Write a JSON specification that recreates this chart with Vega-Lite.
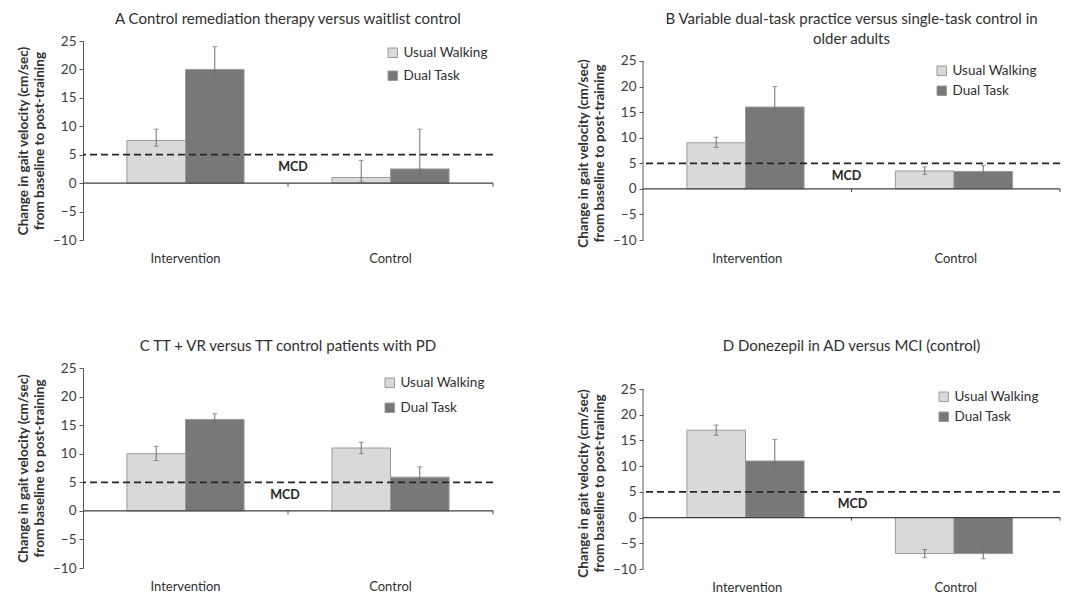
{
  "$schema": "https://vega.github.io/schema/vega-lite/v6.json",
  "background": "white",
  "padding": {"left": 16, "top": 12, "right": 5, "bottom": 3},
  "config": {
    "font": "Lato",
    "view": {"stroke": null},
    "title": {"fontSize": 15, "fontWeight": "normal", "color": "#303030", "font": "Lato", "lineHeight": 20},
    "axisY": {
      "domainColor": "#595959", "tickColor": "#595959", "tickSize": 4, "grid": false, "tickCount": 8,
      "labelFontSize": 13.5, "labelColor": "#404040", "labelPadding": 3, "labelOverlap": false,
      "titleFontSize": 13.5, "titleFontWeight": "bold", "titleColor": "#303030", "titlePadding": 6, "titleLineHeight": 16
    },
    "axisX": {
      "domain": false, "ticks": false, "labelAngle": 0, "labelFontSize": 13, "labelColor": "#303030", "labelPadding": 12, "title": null
    },
    "legend": {
      "orient": "top-right", "title": null, "symbolType": "square", "symbolSize": 90,
      "labelFontSize": 13.5, "labelColor": "#303030", "rowPadding": 8, "offset": 5,
      "symbolStrokeColor": "#9a9a9a", "symbolStrokeWidth": 1
    }
  },
  "datasets": {
    "A": [
      {"group": "Intervention", "series": "Usual Walking", "value": 7.5, "lo": 6.5, "hi": 9.5},
      {"group": "Intervention", "series": "Dual Task", "value": 20, "lo": 19, "hi": 24},
      {"group": "Control", "series": "Usual Walking", "value": 1, "lo": 0.2, "hi": 4},
      {"group": "Control", "series": "Dual Task", "value": 2.5, "lo": 1.5, "hi": 9.5}
    ],
    "B": [
      {"group": "Intervention", "series": "Usual Walking", "value": 9, "lo": 8.1, "hi": 10.1},
      {"group": "Intervention", "series": "Dual Task", "value": 16, "lo": 15, "hi": 20},
      {"group": "Control", "series": "Usual Walking", "value": 3.5, "lo": 2.8, "hi": 4.3},
      {"group": "Control", "series": "Dual Task", "value": 3.4, "lo": 2.5, "hi": 4.6}
    ],
    "C": [
      {"group": "Intervention", "series": "Usual Walking", "value": 10, "lo": 8.8, "hi": 11.3},
      {"group": "Intervention", "series": "Dual Task", "value": 16, "lo": 15, "hi": 17},
      {"group": "Control", "series": "Usual Walking", "value": 11, "lo": 10, "hi": 12},
      {"group": "Control", "series": "Dual Task", "value": 5.9, "lo": 5, "hi": 7.7}
    ],
    "D": [
      {"group": "Intervention", "series": "Usual Walking", "value": 17, "lo": 16, "hi": 18},
      {"group": "Intervention", "series": "Dual Task", "value": 11, "lo": 10, "hi": 15.2},
      {"group": "Control", "series": "Usual Walking", "value": -7, "lo": -7.8, "hi": -6.2},
      {"group": "Control", "series": "Dual Task", "value": -7, "lo": -8, "hi": -6}
    ]
  },
  "resolve": {"legend": {"color": "independent"}},
  "spacing": 82,
  "hconcat": [
    {
      "spacing": 74,
      "resolve": {"legend": {"color": "independent"}},
      "vconcat": [
        {
          "title": {"text": "A  Control remediation therapy versus waitlist control", "offset": 7},
          "width": 410, "height": 199,
          "data": {"name": "A"},
          "layer": [
            {"mark": {"type": "bar", "stroke": "#9a9a9a", "strokeWidth": 1},
             "encoding": {
               "x": {"field": "group", "type": "nominal", "sort": ["Intervention", "Control"], "scale": {"domain": ["Intervention", "Control"], "paddingInner": 0, "paddingOuter": 0}},
               "xOffset": {"field": "series", "type": "nominal", "sort": ["Usual Walking", "Dual Task"], "scale": {"domain": ["Usual Walking", "Dual Task"], "paddingOuter": 0.75, "paddingInner": 0}},
               "y": {"field": "value", "type": "quantitative", "scale": {"domain": [-10, 25], "nice": false}, "axis": {"tickCount": 8, "labelOverlap": false, "title": ["Change in gait velocity (cm/sec)", "from baseline to post-training"]}},
               "color": {"field": "series", "type": "nominal", "sort": ["Usual Walking", "Dual Task"], "scale": {"domain": ["Usual Walking", "Dual Task"], "range": ["#d9d9d9", "#787878"]}}
             }},
            {"mark": {"type": "rule", "color": "#6f6f6f", "strokeWidth": 1},
             "encoding": {"x": {"field": "group", "type": "nominal", "sort": ["Intervention", "Control"]}, "xOffset": {"field": "series", "type": "nominal", "sort": ["Usual Walking", "Dual Task"]}, "y": {"field": "lo", "type": "quantitative", "axis": {"tickCount": 8, "labelOverlap": false, "title": ["Change in gait velocity (cm/sec)", "from baseline to post-training"]}}, "y2": {"field": "hi"}}},
            {"mark": {"type": "tick", "color": "#6f6f6f", "size": 5, "thickness": 1},
             "encoding": {"x": {"field": "group", "type": "nominal", "sort": ["Intervention", "Control"]}, "xOffset": {"field": "series", "type": "nominal", "sort": ["Usual Walking", "Dual Task"]}, "y": {"field": "lo", "type": "quantitative", "axis": {"tickCount": 8, "labelOverlap": false, "title": ["Change in gait velocity (cm/sec)", "from baseline to post-training"]}}}},
            {"mark": {"type": "tick", "color": "#6f6f6f", "size": 5, "thickness": 1},
             "encoding": {"x": {"field": "group", "type": "nominal", "sort": ["Intervention", "Control"]}, "xOffset": {"field": "series", "type": "nominal", "sort": ["Usual Walking", "Dual Task"]}, "y": {"field": "hi", "type": "quantitative", "axis": {"tickCount": 8, "labelOverlap": false, "title": ["Change in gait velocity (cm/sec)", "from baseline to post-training"]}}}},
            {"data": {"values": [{}]}, "mark": {"type": "rule", "color": "#404040", "strokeWidth": 1.2},
             "encoding": {"y": {"datum": 0}}},
            {"data": {"values": [{}]}, "mark": {"type": "rule", "color": "#404040", "strokeWidth": 1},
             "encoding": {"x": {"datum": "Control", "type": "nominal", "bandPosition": 0}, "y": {"datum": 0}, "y2": {"datum": -0.6}}},
            {"data": {"values": [{}]}, "mark": {"type": "rule", "color": "#404040", "strokeWidth": 1},
             "encoding": {"x": {"datum": "Control", "type": "nominal", "bandPosition": 1}, "y": {"datum": 0}, "y2": {"datum": -0.6}}},
            {"data": {"values": [{}]}, "mark": {"type": "rule", "color": "#262626", "strokeWidth": 1.8, "strokeDash": [7, 4]},
             "encoding": {"y": {"datum": 5}}},
            {"data": {"values": [{}]}, "mark": {"type": "text", "fontWeight": "bold", "fontSize": 12.5, "color": "#262626", "dx": 5},
             "encoding": {"x": {"datum": "Control", "type": "nominal", "bandPosition": 0}, "y": {"datum": 2.8}, "text": {"value": "MCD"}}}
          ]
        },
        {
          "title": {"text": "C  TT + VR versus TT control patients with PD", "offset": 7},
          "width": 410, "height": 200,
          "data": {"name": "C"},
          "layer": [
            {"mark": {"type": "bar", "stroke": "#9a9a9a", "strokeWidth": 1},
             "encoding": {
               "x": {"field": "group", "type": "nominal", "sort": ["Intervention", "Control"], "scale": {"domain": ["Intervention", "Control"], "paddingInner": 0, "paddingOuter": 0}},
               "xOffset": {"field": "series", "type": "nominal", "sort": ["Usual Walking", "Dual Task"], "scale": {"domain": ["Usual Walking", "Dual Task"], "paddingOuter": 0.75, "paddingInner": 0}},
               "y": {"field": "value", "type": "quantitative", "scale": {"domain": [-10, 25], "nice": false}, "axis": {"tickCount": 8, "labelOverlap": false, "title": ["Change in gait velocity (cm/sec)", "from baseline to post-training"]}},
               "color": {"field": "series", "type": "nominal", "sort": ["Usual Walking", "Dual Task"], "scale": {"domain": ["Usual Walking", "Dual Task"], "range": ["#d9d9d9", "#787878"]}, "legend": {"offset": 8, "rowPadding": 10}}
             }},
            {"mark": {"type": "rule", "color": "#6f6f6f", "strokeWidth": 1},
             "encoding": {"x": {"field": "group", "type": "nominal", "sort": ["Intervention", "Control"]}, "xOffset": {"field": "series", "type": "nominal", "sort": ["Usual Walking", "Dual Task"]}, "y": {"field": "lo", "type": "quantitative", "axis": {"tickCount": 8, "labelOverlap": false, "title": ["Change in gait velocity (cm/sec)", "from baseline to post-training"]}}, "y2": {"field": "hi"}}},
            {"mark": {"type": "tick", "color": "#6f6f6f", "size": 5, "thickness": 1},
             "encoding": {"x": {"field": "group", "type": "nominal", "sort": ["Intervention", "Control"]}, "xOffset": {"field": "series", "type": "nominal", "sort": ["Usual Walking", "Dual Task"]}, "y": {"field": "lo", "type": "quantitative", "axis": {"tickCount": 8, "labelOverlap": false, "title": ["Change in gait velocity (cm/sec)", "from baseline to post-training"]}}}},
            {"mark": {"type": "tick", "color": "#6f6f6f", "size": 5, "thickness": 1},
             "encoding": {"x": {"field": "group", "type": "nominal", "sort": ["Intervention", "Control"]}, "xOffset": {"field": "series", "type": "nominal", "sort": ["Usual Walking", "Dual Task"]}, "y": {"field": "hi", "type": "quantitative", "axis": {"tickCount": 8, "labelOverlap": false, "title": ["Change in gait velocity (cm/sec)", "from baseline to post-training"]}}}},
            {"data": {"values": [{}]}, "mark": {"type": "rule", "color": "#404040", "strokeWidth": 1.2},
             "encoding": {"y": {"datum": 0}}},
            {"data": {"values": [{}]}, "mark": {"type": "rule", "color": "#404040", "strokeWidth": 1},
             "encoding": {"x": {"datum": "Control", "type": "nominal", "bandPosition": 0}, "y": {"datum": 0}, "y2": {"datum": -0.6}}},
            {"data": {"values": [{}]}, "mark": {"type": "rule", "color": "#404040", "strokeWidth": 1},
             "encoding": {"x": {"datum": "Control", "type": "nominal", "bandPosition": 1}, "y": {"datum": 0}, "y2": {"datum": -0.6}}},
            {"data": {"values": [{}]}, "mark": {"type": "rule", "color": "#262626", "strokeWidth": 1.8, "strokeDash": [7, 4]},
             "encoding": {"y": {"datum": 5}}},
            {"data": {"values": [{}]}, "mark": {"type": "text", "fontWeight": "bold", "fontSize": 12.5, "color": "#262626", "dx": -3},
             "encoding": {"x": {"datum": "Control", "type": "nominal", "bandPosition": 0}, "y": {"datum": 2.8}, "text": {"value": "MCD"}}}
          ]
        }
      ]
    },
    {
      "spacing": 74,
      "resolve": {"legend": {"color": "independent"}},
      "vconcat": [
        {
          "title": {"text": ["B  Variable dual-task practice versus single-task control in", "older adults"], "offset": -6},
          "width": 417, "height": 199,
          "data": {"name": "B"},
          "layer": [
            {"mark": {"type": "bar", "stroke": "#9a9a9a", "strokeWidth": 1},
             "encoding": {
               "x": {"field": "group", "type": "nominal", "sort": ["Intervention", "Control"], "scale": {"domain": ["Intervention", "Control"], "paddingInner": 0, "paddingOuter": 0}},
               "xOffset": {"field": "series", "type": "nominal", "sort": ["Usual Walking", "Dual Task"], "scale": {"domain": ["Usual Walking", "Dual Task"], "paddingOuter": 0.75, "paddingInner": 0}},
               "y": {"field": "value", "type": "quantitative", "scale": {"domain": [-10, 28.91], "nice": false}, "axis": {"tickCount": 8, "labelOverlap": false, "domain": false, "titleY": 112, "title": ["Change in gait velocity (cm/sec)", "from baseline to post-training"]}},
               "color": {"field": "series", "type": "nominal", "sort": ["Usual Walking", "Dual Task"], "scale": {"domain": ["Usual Walking", "Dual Task"], "range": ["#d9d9d9", "#787878"]}, "legend": {"offset": 23, "rowPadding": 5}}
             }},
            {"mark": {"type": "rule", "color": "#6f6f6f", "strokeWidth": 1},
             "encoding": {"x": {"field": "group", "type": "nominal", "sort": ["Intervention", "Control"]}, "xOffset": {"field": "series", "type": "nominal", "sort": ["Usual Walking", "Dual Task"]}, "y": {"field": "lo", "type": "quantitative", "axis": {"tickCount": 8, "labelOverlap": false, "domain": false, "titleY": 112, "title": ["Change in gait velocity (cm/sec)", "from baseline to post-training"]}}, "y2": {"field": "hi"}}},
            {"mark": {"type": "tick", "color": "#6f6f6f", "size": 5, "thickness": 1},
             "encoding": {"x": {"field": "group", "type": "nominal", "sort": ["Intervention", "Control"]}, "xOffset": {"field": "series", "type": "nominal", "sort": ["Usual Walking", "Dual Task"]}, "y": {"field": "lo", "type": "quantitative", "axis": {"tickCount": 8, "labelOverlap": false, "domain": false, "titleY": 112, "title": ["Change in gait velocity (cm/sec)", "from baseline to post-training"]}}}},
            {"mark": {"type": "tick", "color": "#6f6f6f", "size": 5, "thickness": 1},
             "encoding": {"x": {"field": "group", "type": "nominal", "sort": ["Intervention", "Control"]}, "xOffset": {"field": "series", "type": "nominal", "sort": ["Usual Walking", "Dual Task"]}, "y": {"field": "hi", "type": "quantitative", "axis": {"tickCount": 8, "labelOverlap": false, "domain": false, "titleY": 112, "title": ["Change in gait velocity (cm/sec)", "from baseline to post-training"]}}}},
            {"data": {"values": [{}]}, "mark": {"type": "rule", "color": "#595959", "strokeWidth": 1},
             "encoding": {"x": {"datum": "Intervention", "type": "nominal", "bandPosition": 0}, "y": {"datum": -10}, "y2": {"datum": 25}}},
            {"data": {"values": [{}]}, "mark": {"type": "rule", "color": "#404040", "strokeWidth": 1.2},
             "encoding": {"y": {"datum": 0}}},
            {"data": {"values": [{}]}, "mark": {"type": "rule", "color": "#404040", "strokeWidth": 1},
             "encoding": {"x": {"datum": "Control", "type": "nominal", "bandPosition": 0}, "y": {"datum": 0}, "y2": {"datum": -0.6}}},
            {"data": {"values": [{}]}, "mark": {"type": "rule", "color": "#404040", "strokeWidth": 1},
             "encoding": {"x": {"datum": "Control", "type": "nominal", "bandPosition": 1}, "y": {"datum": 0}, "y2": {"datum": -0.6}}},
            {"data": {"values": [{}]}, "mark": {"type": "rule", "color": "#262626", "strokeWidth": 1.8, "strokeDash": [7, 4]},
             "encoding": {"y": {"datum": 5}}},
            {"data": {"values": [{}]}, "mark": {"type": "text", "fontWeight": "bold", "fontSize": 12.5, "color": "#262626", "dx": -5},
             "encoding": {"x": {"datum": "Control", "type": "nominal", "bandPosition": 0}, "y": {"datum": 2.5}, "text": {"value": "MCD"}}}
          ]
        },
        {
          "title": {"text": "D  Donezepil in AD versus MCI (control)", "offset": 15},
          "width": 417, "height": 200,
          "data": {"name": "D"},
          "layer": [
            {"mark": {"type": "bar", "stroke": "#9a9a9a", "strokeWidth": 1},
             "encoding": {
               "x": {"field": "group", "type": "nominal", "sort": ["Intervention", "Control"], "scale": {"domain": ["Intervention", "Control"], "paddingInner": 0, "paddingOuter": 0}},
               "xOffset": {"field": "series", "type": "nominal", "sort": ["Usual Walking", "Dual Task"], "scale": {"domain": ["Usual Walking", "Dual Task"], "paddingOuter": 0.75, "paddingInner": 0}},
               "y": {"field": "value", "type": "quantitative", "scale": {"domain": [-10, 28.889], "nice": false}, "axis": {"tickCount": 8, "labelOverlap": false, "domain": false, "titleY": 114, "title": ["Change in gait velocity (cm/sec)", "from baseline to post-training"]}},
               "color": {"field": "series", "type": "nominal", "sort": ["Usual Walking", "Dual Task"], "scale": {"domain": ["Usual Walking", "Dual Task"], "range": ["#d9d9d9", "#787878"]}, "legend": {"offset": 21, "rowPadding": 5}}
             }},
            {"mark": {"type": "rule", "color": "#6f6f6f", "strokeWidth": 1},
             "encoding": {"x": {"field": "group", "type": "nominal", "sort": ["Intervention", "Control"]}, "xOffset": {"field": "series", "type": "nominal", "sort": ["Usual Walking", "Dual Task"]}, "y": {"field": "lo", "type": "quantitative", "axis": {"tickCount": 8, "labelOverlap": false, "domain": false, "titleY": 114, "title": ["Change in gait velocity (cm/sec)", "from baseline to post-training"]}}, "y2": {"field": "hi"}}},
            {"mark": {"type": "tick", "color": "#6f6f6f", "size": 5, "thickness": 1},
             "encoding": {"x": {"field": "group", "type": "nominal", "sort": ["Intervention", "Control"]}, "xOffset": {"field": "series", "type": "nominal", "sort": ["Usual Walking", "Dual Task"]}, "y": {"field": "lo", "type": "quantitative", "axis": {"tickCount": 8, "labelOverlap": false, "domain": false, "titleY": 114, "title": ["Change in gait velocity (cm/sec)", "from baseline to post-training"]}}}},
            {"mark": {"type": "tick", "color": "#6f6f6f", "size": 5, "thickness": 1},
             "encoding": {"x": {"field": "group", "type": "nominal", "sort": ["Intervention", "Control"]}, "xOffset": {"field": "series", "type": "nominal", "sort": ["Usual Walking", "Dual Task"]}, "y": {"field": "hi", "type": "quantitative", "axis": {"tickCount": 8, "labelOverlap": false, "domain": false, "titleY": 114, "title": ["Change in gait velocity (cm/sec)", "from baseline to post-training"]}}}},
            {"data": {"values": [{}]}, "mark": {"type": "rule", "color": "#595959", "strokeWidth": 1},
             "encoding": {"x": {"datum": "Intervention", "type": "nominal", "bandPosition": 0}, "y": {"datum": -10}, "y2": {"datum": 25}}},
            {"data": {"values": [{}]}, "mark": {"type": "rule", "color": "#404040", "strokeWidth": 1.2},
             "encoding": {"y": {"datum": 0}}},
            {"data": {"values": [{}]}, "mark": {"type": "rule", "color": "#404040", "strokeWidth": 1},
             "encoding": {"x": {"datum": "Control", "type": "nominal", "bandPosition": 0}, "y": {"datum": 0}, "y2": {"datum": -0.6}}},
            {"data": {"values": [{}]}, "mark": {"type": "rule", "color": "#404040", "strokeWidth": 1},
             "encoding": {"x": {"datum": "Control", "type": "nominal", "bandPosition": 1}, "y": {"datum": 0}, "y2": {"datum": -0.6}}},
            {"data": {"values": [{}]}, "mark": {"type": "rule", "color": "#262626", "strokeWidth": 1.8, "strokeDash": [7, 4]},
             "encoding": {"y": {"datum": 5}}},
            {"data": {"values": [{}]}, "mark": {"type": "text", "fontWeight": "bold", "fontSize": 12.5, "color": "#262626", "dx": 1},
             "encoding": {"x": {"datum": "Control", "type": "nominal", "bandPosition": 0}, "y": {"datum": 2.7}, "text": {"value": "MCD"}}}
          ]
        }
      ]
    }
  ]
}
